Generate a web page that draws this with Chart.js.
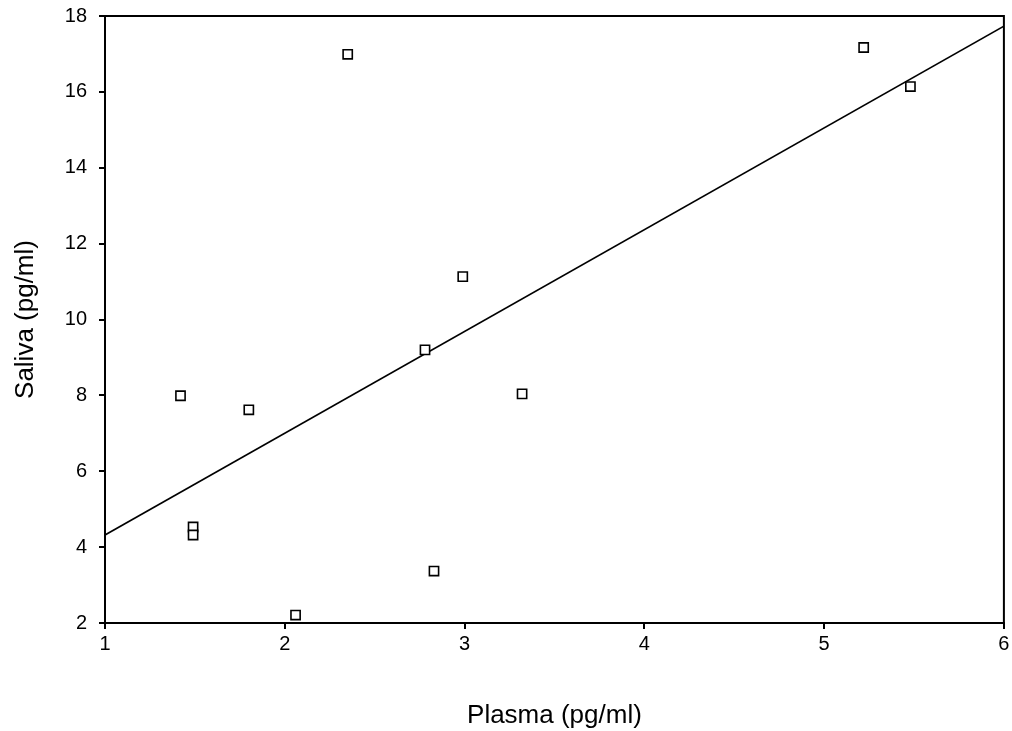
<!DOCTYPE html>
<html>
<head>
<meta charset="utf-8">
<script src="https://cdn.jsdelivr.net/npm/chart.js@4.4.0/dist/chart.umd.min.js"></script>
<style>
  body { margin:0; background:#fff; }
  #wrap { width:1012px; height:731px; }
</style>
</head>
<body>
<div id="wrap"><canvas id="chart" width="1012" height="731"></canvas></div>
<script>
// values
const plasma = [1.42, 1.49, 1.49, 1.80, 2.06, 2.35, 2.78, 2.83, 2.99, 3.32, 5.22, 5.48];
const saliva = [7.99, 4.53, 4.32, 7.62, 2.21, 16.99, 9.20, 3.37, 11.13, 8.04, 17.17, 16.14];
const fitX = [1, 6];
const fitY = [4.32, 17.73];
const xTicks = [1, 2, 3, 4, 5, 6];
const yTicks = [2, 4, 6, 8, 10, 12, 14, 16, 18];

const FONT = 'Liberation Sans, Arial, Helvetica, sans-serif';

// box round the plot (top and right sides)
const frame = {
  id: 'frame',
  afterDraw(chart) {
    const { ctx, chartArea: a } = chart;
    ctx.save();
    ctx.strokeStyle = '#000';
    ctx.lineWidth = 2;
    ctx.beginPath();
    ctx.moveTo(a.left, a.top);
    ctx.lineTo(a.right, a.top);
    ctx.lineTo(a.right, a.bottom);
    ctx.stroke();
    ctx.restore();
  }
};

const axisGrid = { drawOnChartArea:false, drawTicks:true, tickLength:6, color:'#000', lineWidth:2 };

new Chart(document.getElementById('chart'), {
  type: 'scatter',
  data: {
    datasets: [
      {
        data: plasma.map((x, i) => ({ x, y: saliva[i] })),
        pointStyle: 'rect',
        pointRadius: 6.5,
        pointHoverRadius: 6.5,
        borderColor: '#000',
        backgroundColor: '#fff',
        borderWidth: 1.6
      },
      {
        type: 'line',
        data: fitX.map((x, i) => ({ x, y: fitY[i] })),
        borderColor: '#000',
        borderWidth: 1.6,
        pointRadius: 0,
        fill: false
      }
    ]
  },
  options: {
    responsive: false,
    animation: false,
    layout: { padding: { top:16, right:6, left:0, bottom:0 } },
    plugins: { legend: { display:false }, tooltip: { enabled:false } },
    scales: {
      x: {
        type: 'linear',
        min: 1, max: 6,
        afterFit(s) { s.height = 108; s.paddingLeft = 0; s.paddingRight = 0; },
        afterBuildTicks(s) { s.ticks = xTicks.map(v => ({ value: v })); },
        grid: axisGrid,
        border: { color:'#000', width:2 },
        ticks: { color:'#000', padding:3, font: { family:FONT, size:20 } },
        title: { display:true, text:'Plasma (pg/ml)', color:'#000',
                 padding: { top:0, bottom:0 }, font: { family:FONT, size:26 } }
      },
      y: {
        type: 'linear',
        min: 2, max: 18,
        afterFit(s) { s.width = 105; s.paddingTop = 0; s.paddingBottom = 0; },
        afterBuildTicks(s) { s.ticks = yTicks.map(v => ({ value: v })); },
        grid: axisGrid,
        border: { color:'#000', width:2 },
        ticks: { color:'#000', padding:12, font: { family:FONT, size:20 } },
        title: { display:true, text:'Saliva (pg/ml)', color:'#000',
                 padding: { top:10, bottom:0 }, font: { family:FONT, size:26 } }
      }
    }
  },
  plugins: [frame]
});
</script>
</body>
</html>
